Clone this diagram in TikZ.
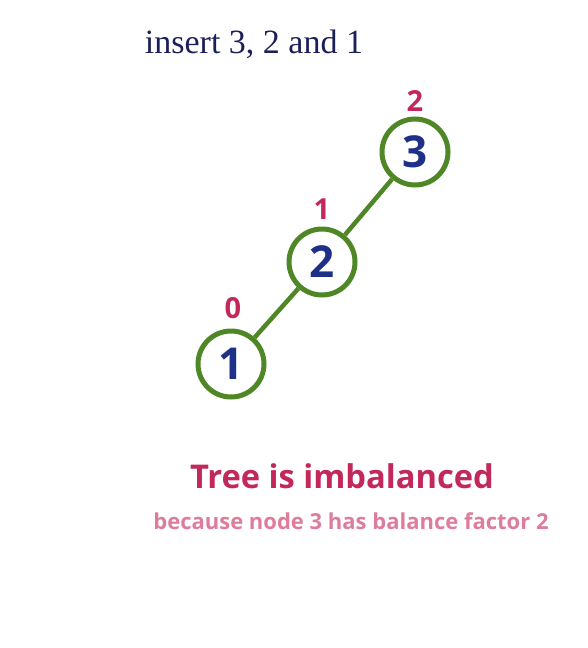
\documentclass[tikz,border=0pt]{standalone}
\usepackage{fontspec}
\setmainfont{Liberation Serif}
\setsansfont{Open Sans}
\usetikzlibrary{positioning}
\definecolor{treegreen}{RGB}{80,135,38}
\definecolor{keyblue}{RGB}{30,48,135}
\definecolor{titlenavy}{RGB}{28,32,88}
\definecolor{bfred}{RGB}{195,40,90}
\definecolor{notepink}{RGB}{222,125,155}

\begin{document}
\begin{tikzpicture}[
    x=1pt, y=-1pt,
    key/.style={circle, draw=treegreen, line width=5pt, minimum size=66pt, inner sep=0pt,
                font=\sffamily\bfseries\fontsize{44}{44}\selectfont, text=keyblue},
    bf/.style={font=\sffamily\bfseries\fontsize{29}{29}\selectfont, text=bfred},
    edge/.style={draw=treegreen, line width=4.5pt},
]
\useasboundingbox (0,0) rectangle (588,648);

% --- Title ---
\node[font=\fontsize{34}{34}\selectfont, text=titlenavy] (title) at (254,44) {insert 3, 2 and 1};

% --- Tree ---
\node[key] (n3) at (415,152) {3};
\node[key] (n2) at (322,262) {2};
\node[key] (n1) at (231,364) {1};

% --- Balance factors ---
\node[bf] (bf3) at (415,101) {2};
\node[bf] (bf2) at (322,209) {1};
\node[bf] (bf1) at (233,308) {0};

% --- Edges ---
\draw[edge] (n3) -- (n2);
\draw[edge] (n2) -- (n1);

% --- Notes ---
\node[font=\sffamily\bfseries\fontsize{32.7}{32.7}\selectfont, text=bfred] (msg) at (342,476) {Tree is imbalanced};
\node[font=\sffamily\bfseries\fontsize{22}{22}\selectfont, text=notepink] (why) at (351,521) {because node 3 has balance factor 2};

\end{tikzpicture}
\end{document}
